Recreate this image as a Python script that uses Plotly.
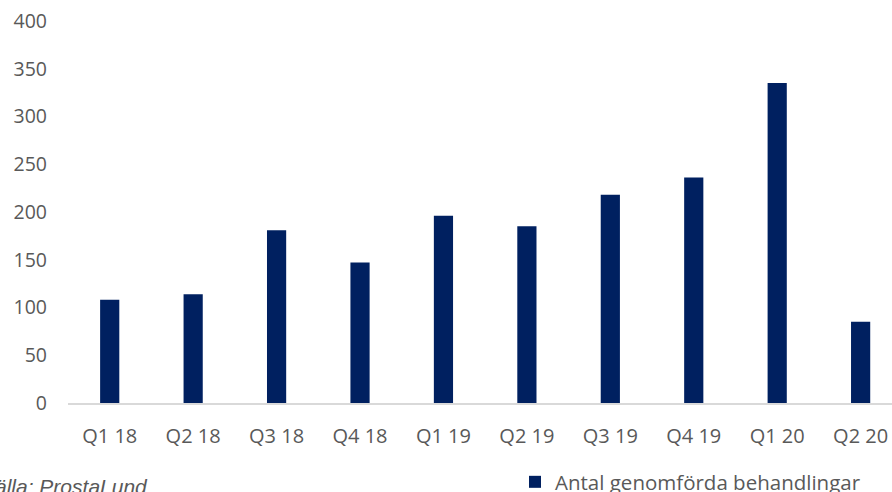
import plotly.graph_objects as go

categories = ["Q1 18", "Q2 18", "Q3 18", "Q4 18", "Q1 19", "Q2 19", "Q3 19", "Q4 19", "Q1 20", "Q2 20"]
values = [108, 114, 181, 147, 196, 185, 218, 236, 335, 85]
series_name = "Antal genomförda behandlingar"
source_text = "Källa: ProstaLund"
y_ticks = [0, 50, 100, 150, 200, 250, 300, 350, 400]

W, H = 892, 492
L, R, T, B = 68, 0, 21, 89
pw = W - L - R
ph = H - T - B

def px_x(x):
    return (x - L) / pw

def px_y(y):
    return (H - B - y) / ph

grey = "#595959"
navy = "#002060"

fig = go.Figure()
fig.add_trace(go.Bar(x=list(range(len(categories))), y=values, name=series_name,
                     marker=dict(color=navy, line=dict(width=0)), showlegend=True))

fig.update_layout(
    width=W, height=H,
    margin=dict(l=L, r=R, t=T, b=B, autoexpand=False),
    paper_bgcolor="white", plot_bgcolor="white",
    bargap=0.77,
    font=dict(family="Open Sans", color=grey, size=19.5),
    showlegend=True,
    legend=dict(orientation="h", x=px_x(515), xanchor="left", y=px_y(482), yanchor="middle",
                font=dict(family="Open Sans", size=20.5, color=grey), bgcolor="rgba(0,0,0,0)",
                itemwidth=30),
    xaxis=dict(range=[-0.5, 9.376], tickmode="array", tickvals=list(range(len(categories))),
               ticktext=categories, showgrid=False, zeroline=False, showline=True,
               linecolor="#d9d9d9", linewidth=2, ticks="", ticklabelstandoff=14,
               tickfont=dict(family="Open Sans", size=20, color=grey), fixedrange=True),
    yaxis=dict(range=[0, 400], tickmode="array", tickvals=y_ticks, showgrid=False,
               zeroline=False, showline=False, ticks="", ticklabelstandoff=20,
               tickfont=dict(family="Open Sans", size=19.5, color=grey), fixedrange=True),
    annotations=[dict(text="<i>" + source_text + "</i>", xref="paper", yref="paper",
                      x=px_x(-21), y=px_y(486), xanchor="left", yanchor="middle",
                      showarrow=False,
                      font=dict(family="Liberation Sans", size=21, color=grey))],
)

fig.write_html("out.html")
